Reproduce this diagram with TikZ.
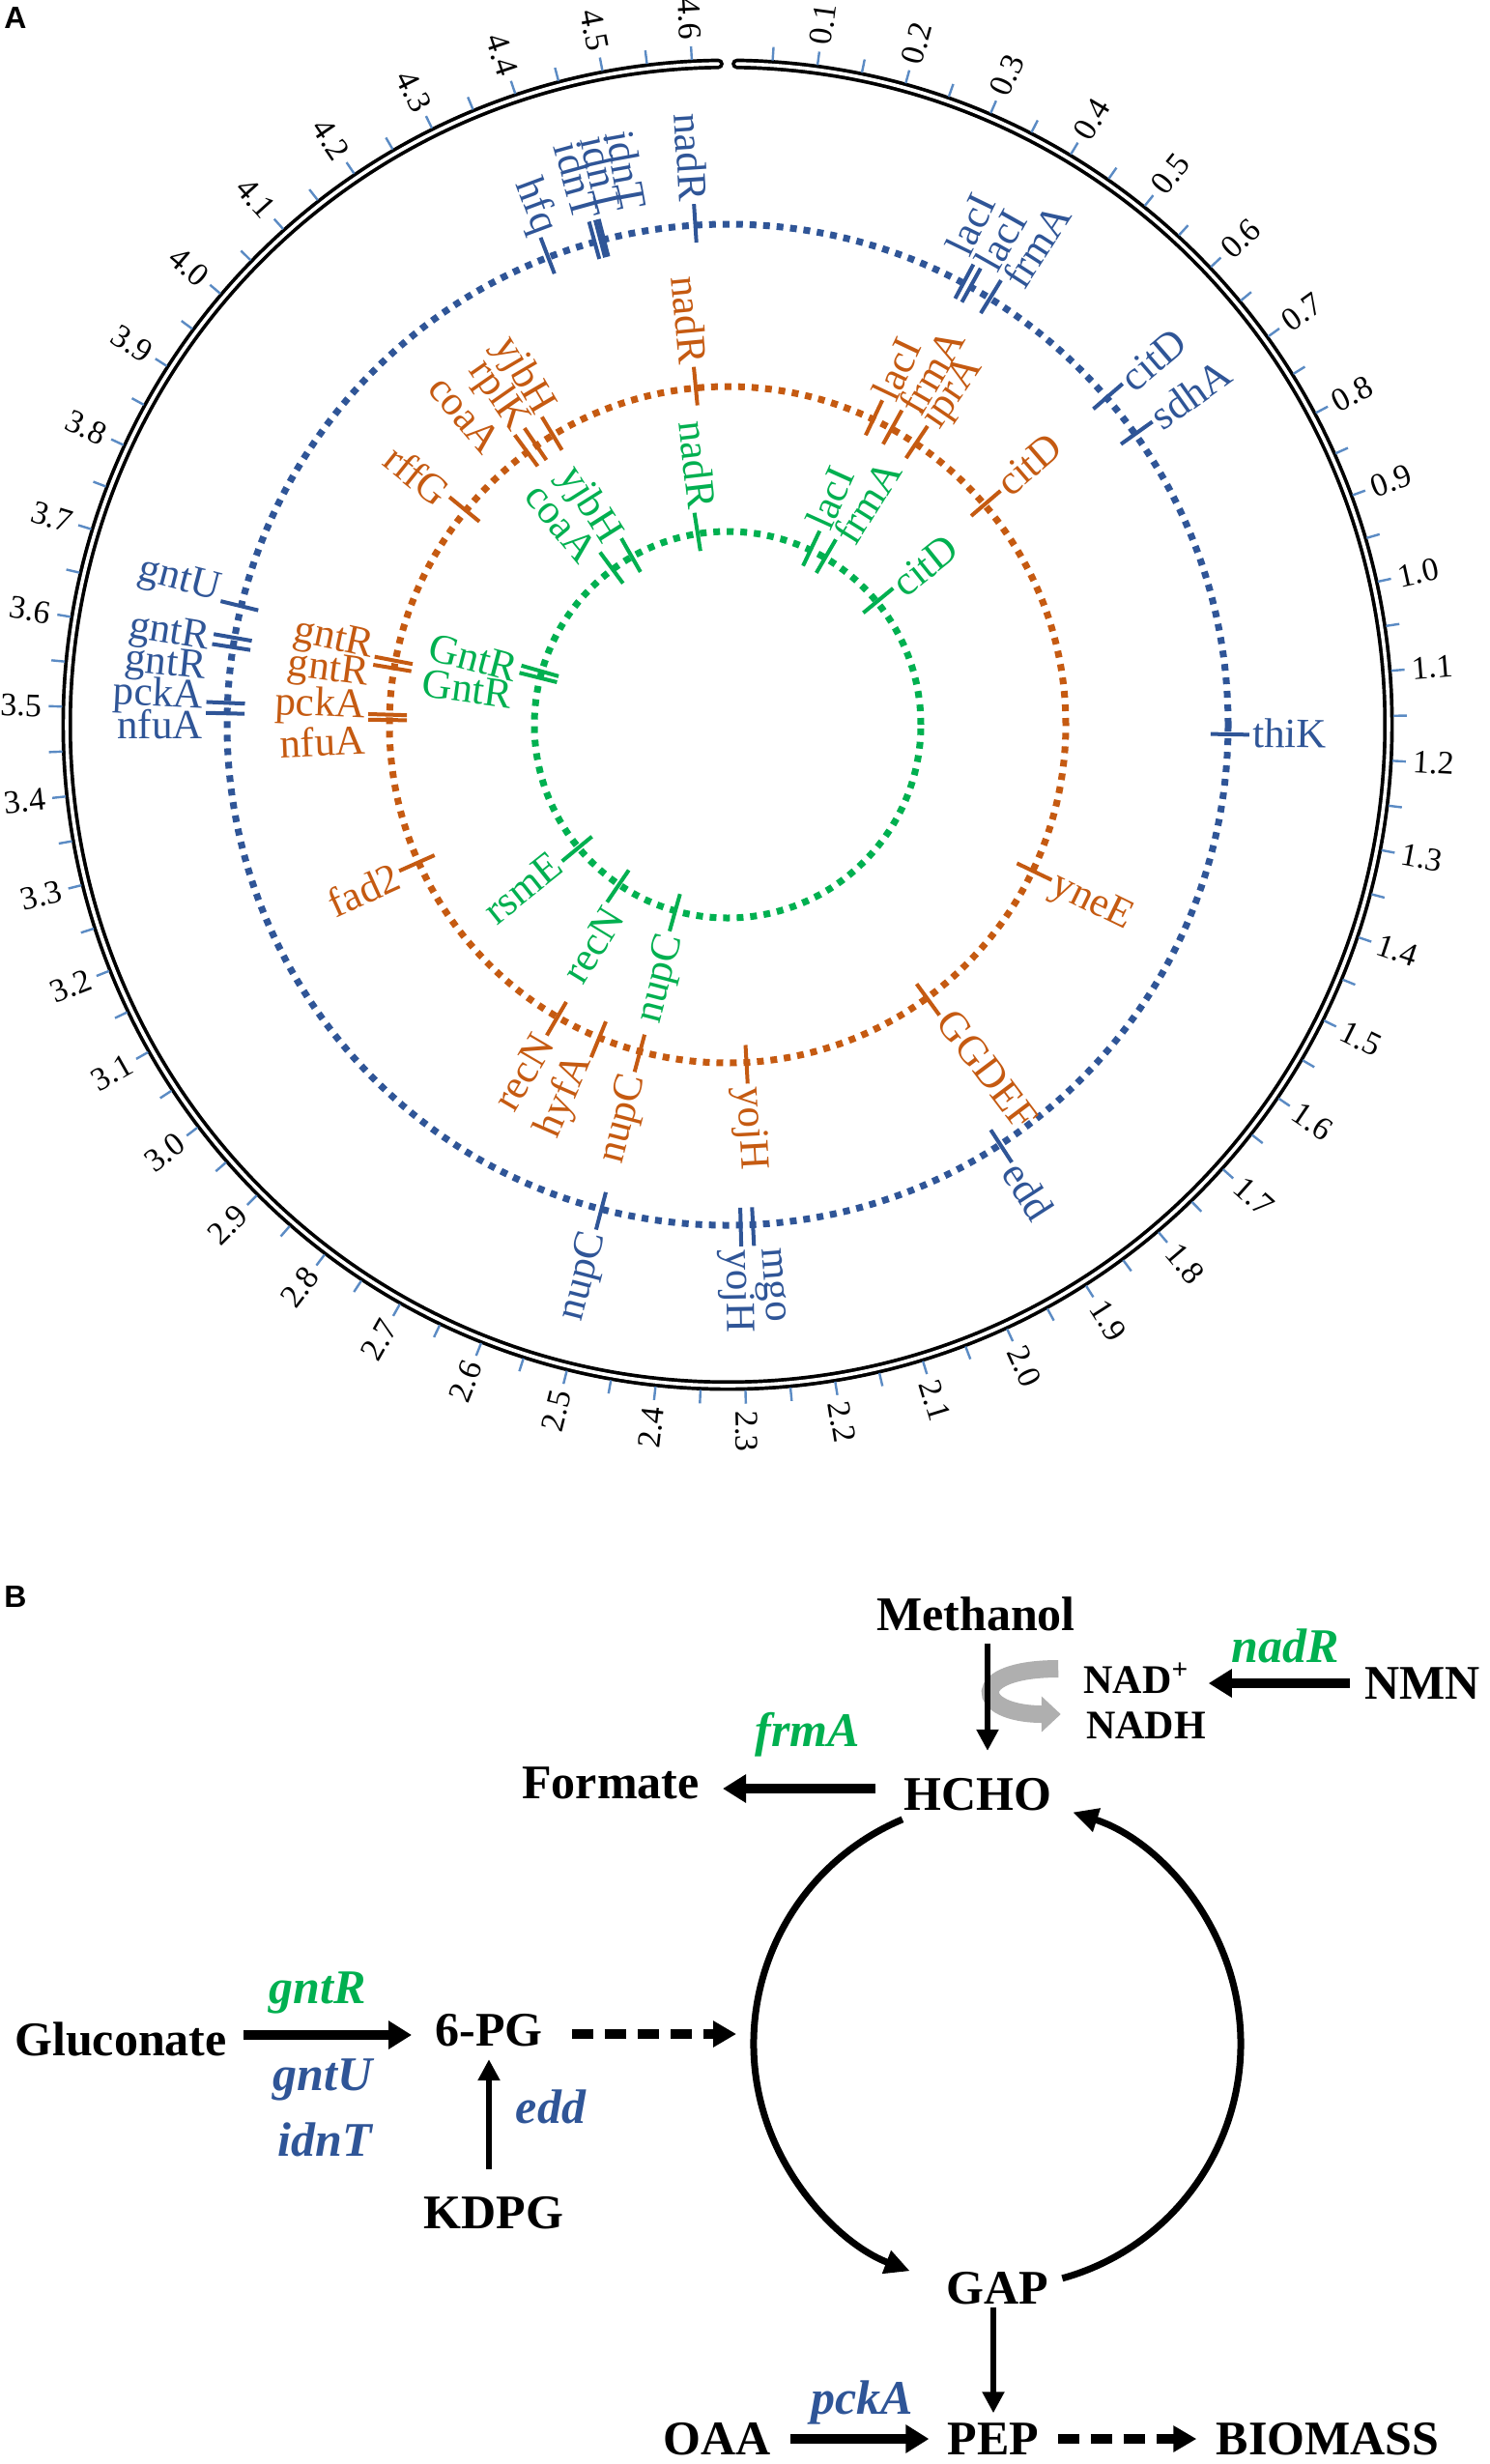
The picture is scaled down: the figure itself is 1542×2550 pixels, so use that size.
\documentclass[tikz,border=0pt]{standalone}
\usepackage{fontspec}
\setmainfont{Liberation Serif}
\setsansfont{Liberation Sans}
\usetikzlibrary{arrows.meta,calc}
\definecolor{cblue}{HTML}{2F5597}
\definecolor{corange}{HTML}{C55A11}
\definecolor{cgreen}{HTML}{00B050}
\definecolor{ctick}{HTML}{5B8BC4}
\definecolor{cgray}{HTML}{AFAFAF}
\newcounter{gcnt}
\newcommand\geneR[5]{%
  \stepcounter{gcnt}%
  \draw[genetick,#1] ({#3}:{#2-18}) -- ({#3}:{#2+22});
  \node[genelab,text=#1,rotate={#4},anchor=west] (g\arabic{gcnt}) at ({#4}:{#2+25}) {#5};}
\newcommand\geneL[5]{%
  \stepcounter{gcnt}%
  \draw[genetick,#1] ({#3}:{#2-18}) -- ({#3}:{#2+22});
  \node[genelab,text=#1,rotate={#4-180},anchor=east] (g\arabic{gcnt}) at ({#4}:{#2+25}) {#5};}
\begin{document}
\begin{tikzpicture}[x=0.5pt,y=0.5pt,
 genetick/.style={line width=2pt},
 genelab/.style={inner sep=0pt,font=\fontsize{21.5}{21.5}\selectfont},
 ticklab/.style={inner sep=0pt,font=\fontsize{17}{17}\selectfont},
 dotc/.style={line width=3.5pt,dash pattern=on 3.5pt off 3.5pt},
 pb/.style={inner sep=0pt,font=\bfseries\fontsize{25}{25}\selectfont},
 pbs/.style={inner sep=0pt,font=\bfseries\fontsize{21}{21}\selectfont},
 bgene/.style={inner sep=0pt,font=\bfseries\itshape\fontsize{25}{25}\selectfont},
 thickar/.style={line width=5pt,-{Triangle[length=12pt,width=14pt]}},
 thinar/.style={line width=2.6pt,-{Triangle[length=11pt,width=11pt]}},
 dashar/.style={line width=5pt,dash pattern=on 11pt off 6pt,-{Triangle[length=12pt,width=13pt]}},
 loopar/.style={line width=3.5pt,-{Triangle[length=13pt,width=12pt]}},
 grayar/.style={cgray,line width=9pt,-{Triangle[length=10pt,width=18pt]}},
 panel/.style={inner sep=0pt,font=\sffamily\bfseries\fontsize{16}{16}\selectfont}]
\fill[white] (0,0) rectangle (1542,-2550);
\path[use as bounding box] (0,0) rectangle (1542,-2550);

\node[panel,anchor=north west] (pa) at (4,-7) {A};
\node[panel,anchor=north west] (pbl) at (4,-1641) {B};

\begin{scope}[shift={(753,-750)}]
\coordinate (cc) at (0,0);
% outer ring
\draw[line width=5.5pt,line cap=round] (89.2:684) arc[start angle=89.2,end angle=-269.2,radius=684];
\draw[white,line width=1.8pt,line cap=round] (89.2:684) arc[start angle=89.2,end angle=-269.2,radius=684];
\foreach \i in {1,...,92}{\draw[ctick,line width=1.2pt] ({90-\i*0.05/4.64*360}:689) -- ({90-\i*0.05/4.64*360}:703);}
\foreach \i in {1,...,46}{
  \pgfmathsetmacro\ang{90-\i*0.1/4.64*360}
  \pgfmathtruncatemacro\tkint{\i/10}
  \pgfmathtruncatemacro\tkdec{\i-10*\tkint}
  \ifdim\ang pt<-90pt
    \node[ticklab,rotate=\ang+180,anchor=east] (t\i) at (\ang:710) {\tkint.\tkdec};
  \else
    \node[ticklab,rotate=\ang,anchor=west] (t\i) at (\ang:710) {\tkint.\tkdec};
  \fi}
% dotted circles
\draw[dotc,cblue] (cc) circle[radius=518];
\draw[dotc,corange] (cc) circle[radius=350];
\draw[dotc,cgreen] (cc) circle[radius=200];
% blue genes
\geneL{cblue}{518}{93.7}{93.7}{nadR}
\geneL{cblue}{518}{104.3}{100.3}{idnT}
\geneL{cblue}{518}{104.7}{102.8}{idnT}
\geneL{cblue}{518}{105.4}{105.4}{idnT}
\geneL{cblue}{518}{111}{110.4}{hfq}
\geneR{cblue}{518}{61.9}{64.1}{lacI}
\geneR{cblue}{518}{61.0}{60.6}{lacI}
\geneR{cblue}{518}{58.4}{57.2}{frmA}
\geneR{cblue}{518}{40.8}{40.6}{citD}
\geneR{cblue}{518}{35.5}{35.5}{sdhA}
\geneR{cblue}{518}{-1.1}{-0.9}{thiK}
\geneR{cblue}{518}{-57}{-57.2}{edd}
\geneR{cblue}{518}{-87.1}{-85.6}{mgo}
\geneR{cblue}{518}{-88.5}{-89.1}{yojH}
\geneL{cblue}{518}{255.4}{255.4}{nupC}
\geneL{cblue}{518}{166.3}{165.3}{gntU}
\geneL{cblue}{518}{170}{170.8}{gntR}
\geneL{cblue}{518}{171.1}{174}{gntR}
\geneL{cblue}{518}{177.5}{177.1}{pckA}
\geneL{cblue}{518}{178.7}{180}{nfuA}
% orange genes
\geneL{corange}{350}{95.4}{95.4}{nadR}
\geneR{corange}{350}{64.5}{64.6}{lacI}
\geneR{corange}{350}{61}{60}{frmA}
\geneR{corange}{350}{56.2}{55.7}{iprA}
\geneR{corange}{350}{40.6}{40.8}{citD}
\geneR{corange}{350}{-25.6}{-26.1}{yneE}
\geneR{corange}{350}{-53.9}{-53}{GGDEF}
\geneR{corange}{350}{-86.8}{-86.9}{yojH}
\geneL{corange}{350}{121.1}{120.4}{yjbH}
\geneL{corange}{350}{124.4}{124.9}{rplK}
\geneL{corange}{350}{126.3}{130.2}{coaA}
\geneL{corange}{350}{140.7}{141.2}{rffG}
\geneL{corange}{350}{169.1}{167.9}{gntR}
\geneL{corange}{350}{170.4}{172.4}{gntR}
\geneL{corange}{350}{178.3}{177.4}{pckA}
\geneL{corange}{350}{179.2}{182.4}{nfuA}
\geneL{corange}{350}{204}{204.4}{fad2}
\geneL{corange}{350}{239.8}{239.6}{recN}
\geneL{corange}{350}{247.7}{246.4}{hyfA}
\geneL{corange}{350}{255}{255.3}{nupC}
% green genes
\geneL{cgreen}{200}{98.9}{96.6}{nadR}
\geneR{cgreen}{200}{64.6}{65.7}{lacI}
\geneR{cgreen}{200}{59.7}{58}{frmA}
\geneR{cgreen}{200}{39.5}{38.8}{citD}
\geneL{cgreen}{200}{119.7}{122.3}{yjbH}
\geneL{cgreen}{200}{126.5}{129.5}{coaA}
\geneL{cgreen}{200}{164}{165.2}{GntR}
\geneL{cgreen}{200}{166}{172.2}{GntR}
\geneL{cgreen}{200}{219.5}{218.6}{rsmE}
\geneL{cgreen}{200}{235.8}{238.6}{recN}
\geneL{cgreen}{200}{254.3}{255.4}{nupC}
\end{scope}

% ---------------- panel B
\node[pb] (meth) at (1010,-1670) {Methanol};
\node[pbs] (nadp) at (1176,-1737) {NAD\textsuperscript{+}};
\node[pbs] (nadh) at (1186,-1786) {NADH};
\node[pb] (nmn) at (1472,-1742) {NMN};
\node[bgene,text=cgreen] (bnadR) at (1330,-1703) {nadR};
\node[bgene,text=cgreen] (bfrmA) at (836,-1795) {frmA};
\node[pb] (formate) at (632,-1845) {Formate};
\node[pb] (hcho) at (1012,-1857) {HCHO};
\node[pb] (gluc) at (125,-2110) {Gluconate};
\node[bgene,text=cgreen] (bgntR) at (329,-2062) {gntR};
\node[bgene,text=cblue] (bgntU) at (334,-2152) {gntU};
\node[bgene,text=cblue] (bidnT) at (336,-2214) {idnT};
\node[pb] (pg6) at (506,-2101) {6-PG};
\node[pb] (kdpg) at (511,-2290) {KDPG};
\node[bgene,text=cblue] (bedd) at (570,-2180) {edd};
\node[pb] (gap) at (1032,-2368) {GAP};
\node[pb] (oaa) at (742,-2524) {OAA};
\node[bgene,text=cblue] (bpckA) at (892,-2486) {pckA};
\node[pb] (pep) at (1028,-2524) {PEP};
\node[pb] (bio) at (1374,-2524) {BIOMASS};
\coordinate (lc) at (1032,-2115);
\coordinate (loopW) at (782,-2105);

\draw[grayar] ([xshift=-13pt,yshift=5pt]nadp.west) .. controls +(-95,0) and +(-90,0) .. ([xshift=-13pt,yshift=6pt]nadh.west);
\draw[thinar,shorten <=6.5pt,shorten >=14pt] ([xshift=6pt]meth.south) -- ([xshift=6pt]meth.south |- hcho.north);
\draw[thickar,shorten <=7.5pt,shorten >=10pt] (nmn.west) -- (nmn.west -| nadp.east);
\draw[thickar,shorten <=14.5pt,shorten >=12pt] ([yshift=3pt]hcho.west) -- ([yshift=3pt]hcho.west -| formate.east);
\draw[thickar,shorten <=8.5pt,shorten >=12pt] ([yshift=2pt]gluc.east) -- ([yshift=2pt]gluc.east -| pg6.west);
\draw[dashar,shorten <=15pt,shorten >=10pt] ([yshift=-2pt]pg6.east) -- (loopW);
\draw[thinar,shorten <=14pt,shorten >=6.5pt] (kdpg.north -| pg6.south) -- (pg6.south);
\draw[thinar,shorten <=1.5pt,shorten >=5pt] (gap.south -| pep.north) -- (pep.north);
\draw[thickar,shorten <=10pt,shorten >=9.5pt] (oaa.east) -- (pep.west);
\draw[dashar,shorten <=9.5pt,shorten >=10pt] (pep.east) -- (bio.west);
\draw[loopar] (lc) ++(112.9:252) arc[start angle=112.9,end angle=249,radius=252];
\draw[loopar] (lc) ++(-74.5:252) arc[start angle=-74.5,end angle=71.9,radius=252];
\end{tikzpicture}
\end{document}
